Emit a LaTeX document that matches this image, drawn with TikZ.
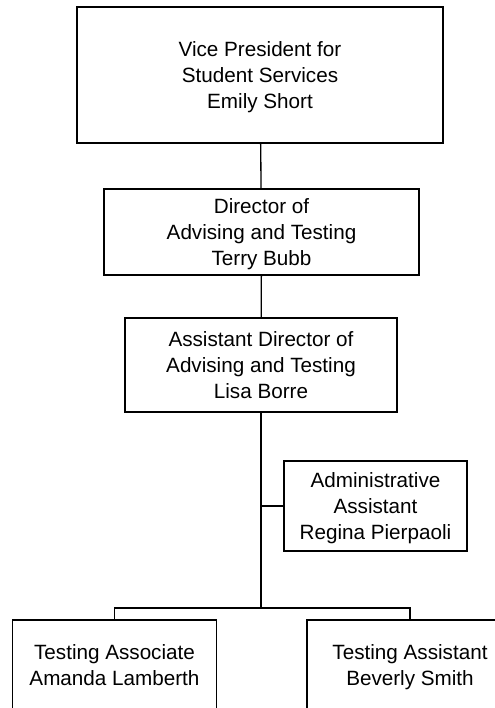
\documentclass[tikz,border=0pt]{standalone}
\usepackage{fontspec}
\setmainfont{Liberation Sans}
\usetikzlibrary{positioning,calc}
\tikzset{
  orgbox/.style={draw=black, line width=1pt, fill=white, align=center,
                 inner sep=0pt, text depth=0pt,
                 font=\fontsize{15.5}{19.3}\selectfont},
  link/.style={draw=black, line width=1pt}}

\begin{document}
\begin{tikzpicture}[x=0.75pt, y=-0.75pt]
    \useasboundingbox (0,0) rectangle (495,708);
    \clip (0,0) rectangle (495,708);
    \node[orgbox, minimum width=274.5pt, minimum height=102pt] (vp) at (260,75)
      {Vice President for\\Student Services\\Emily Short};
    \node[orgbox, minimum width=236.25pt, minimum height=64.5pt] (dir) at (261.5,232)
      {Director of\\Advising and Testing\\Terry Bubb};
    \node[orgbox, minimum width=204pt, minimum height=70.5pt] (adir) at (261,365)
      {Assistant Director of\\Advising and Testing\\Lisa Borre};
    \node[orgbox, minimum width=137.25pt, minimum height=67.5pt] (admin) at (375.5,506)
      {Administrative\\Assistant\\Regina Pierpaoli};
    \node[orgbox, minimum width=153.3pt, minimum height=67.5pt] (assoc) at (114.5,665)
      {Testing Associate\\Amanda Lamberth};
    \node[orgbox, minimum width=154.5pt, minimum height=67.5pt] (assist) at (410,665)
      {Testing Assistant\\Beverly Smith};
    \coordinate (fork) at (261,608);
    % connectors
    \draw[link] (vp) -- (dir);
    \draw[link] (dir) -- (adir);
    \draw[link] (adir.south) -- (fork);
    \draw[link] (adir.south |- admin.west) -- (admin.west);
    \draw[link] (assoc.north) |- (fork) -| (assist.north);
  \end{tikzpicture}
\end{document}
